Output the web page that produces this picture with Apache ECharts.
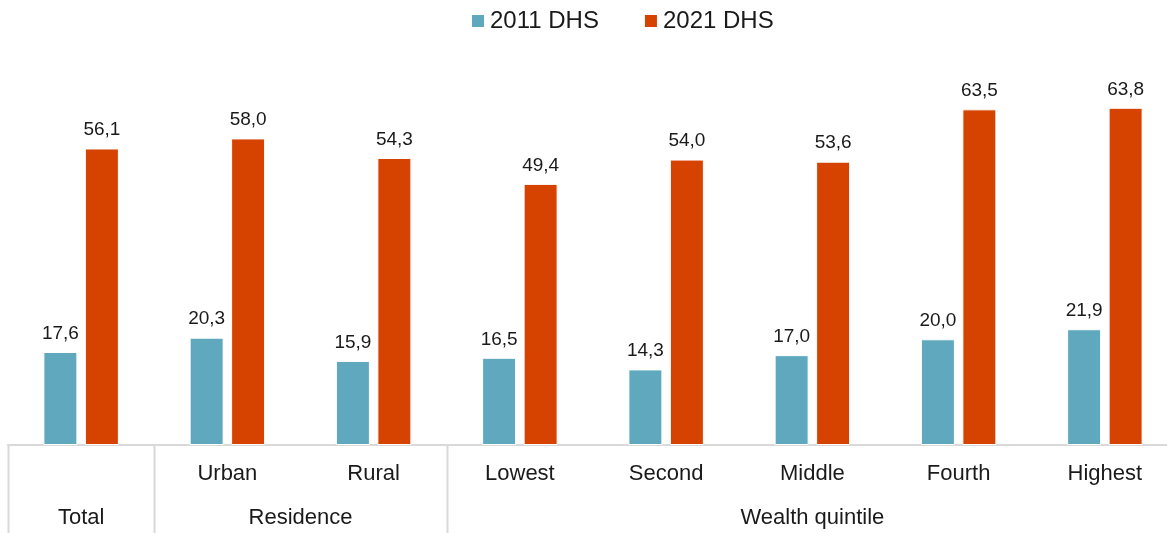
<!DOCTYPE html>
<html>
<head>
<meta charset="utf-8">
<script src="https://cdn.jsdelivr.net/npm/echarts@6/dist/echarts.min.js"></script>
<style>
html,body{margin:0;padding:0;background:#fff;}
#chart{width:1167px;height:533px;}
</style>
</head>
<body>
<div id="chart"></div>
<script>
// Categories along the x axis (first row of labels) and their groups (second row)
const categories = ['Total', 'Urban', 'Rural', 'Lowest', 'Second', 'Middle', 'Fourth', 'Highest'];
const rowLabels = ['', 'Urban', 'Rural', 'Lowest', 'Second', 'Middle', 'Fourth', 'Highest'];
const groups = [
  { name: 'Total', from: 0, to: 0 },
  { name: 'Residence', from: 1, to: 2 },
  { name: 'Wealth quintile', from: 3, to: 7 }
];
const seriesNames = ['2011 DHS', '2021 DHS'];
const values2011 = [17.6, 20.3, 15.9, 16.5, 14.3, 17.0, 20.0, 21.9];
const values2021 = [56.1, 58.0, 54.3, 49.4, 54.0, 53.6, 63.5, 63.8];

const colors = ['#5FA8BD', '#D64200'];
const fontFamily = 'Liberation Sans, Arial, sans-serif';
const textColor = '#1a1a1a';
const axisColor = '#D9D9D9';

const chart = echarts.init(document.getElementById('chart'));

const labelFmt = p => p.value.toFixed(1).replace('.', ',');
const barLabel = {
  show: true, position: 'top', distance: 9, fontSize: 19,
  color: textColor, fontFamily: fontFamily, formatter: labelFmt
};

chart.setOption({
  animation: false,
  color: colors,
  textStyle: { fontFamily: fontFamily },
  legend: {
    top: 4,
    left: 465,
    itemWidth: 14,
    itemHeight: 14,
    itemGap: 44,
    icon: 'rect',
    textStyle: { fontSize: 24, color: textColor, fontFamily: fontFamily },
    data: seriesNames
  },
  // the last category band runs a little past the right edge of the canvas
  grid: { left: 8, right: -11, top: 75, bottom: 88, containLabel: false, outerBoundsMode: 'none' },
  xAxis: {
    type: 'category',
    data: categories,
    axisLine: { show: true, lineStyle: { color: axisColor, width: 2 } },
    axisTick: { show: false },
    axisLabel: {
      interval: 0,
      margin: 18,
      fontSize: 22,
      color: textColor,
      fontFamily: fontFamily,
      formatter: (v, i) => rowLabels[i]
    }
  },
  yAxis: {
    type: 'value',
    min: 0,
    max: 70,
    show: false,
    splitLine: { show: false }
  },
  series: [
    {
      name: seriesNames[0],
      type: 'bar',
      data: values2011,
      barWidth: 34,
      barGap: '22%',
      itemStyle: { borderColor: '#ffffff', borderWidth: 1 },
      label: barLabel
    },
    {
      name: seriesNames[1],
      type: 'bar',
      data: values2021,
      barWidth: 34,
      itemStyle: { borderColor: '#ffffff', borderWidth: 1 },
      label: barLabel
    }
  ]
});

// Group names centred under their span of categories, with dividers at each group's left edge
const y0 = chart.convertToPixel({ yAxisIndex: 0 }, 0);
const band = chart.convertToPixel({ xAxisIndex: 0 }, 1) - chart.convertToPixel({ xAxisIndex: 0 }, 0);
const graphics = [];
groups.forEach(g => {
  const x1 = chart.convertToPixel({ xAxisIndex: 0 }, g.from);
  const x2 = chart.convertToPixel({ xAxisIndex: 0 }, g.to);
  const edge = Math.round(x1 - band / 2) + 0.5;
  graphics.push({
    type: 'line',
    shape: { x1: edge, y1: y0, x2: edge, y2: y0 + 90 },
    style: { stroke: axisColor, lineWidth: 2 }
  });
  graphics.push({
    type: 'text',
    x: (x1 + x2) / 2,
    y: y0 + 73,
    style: {
      text: g.name,
      fontSize: 22,
      fontFamily: fontFamily,
      fill: textColor,
      textAlign: 'center',
      textVerticalAlign: 'middle'
    }
  });
});
chart.setOption({ graphic: graphics });
</script>
</body>
</html>
